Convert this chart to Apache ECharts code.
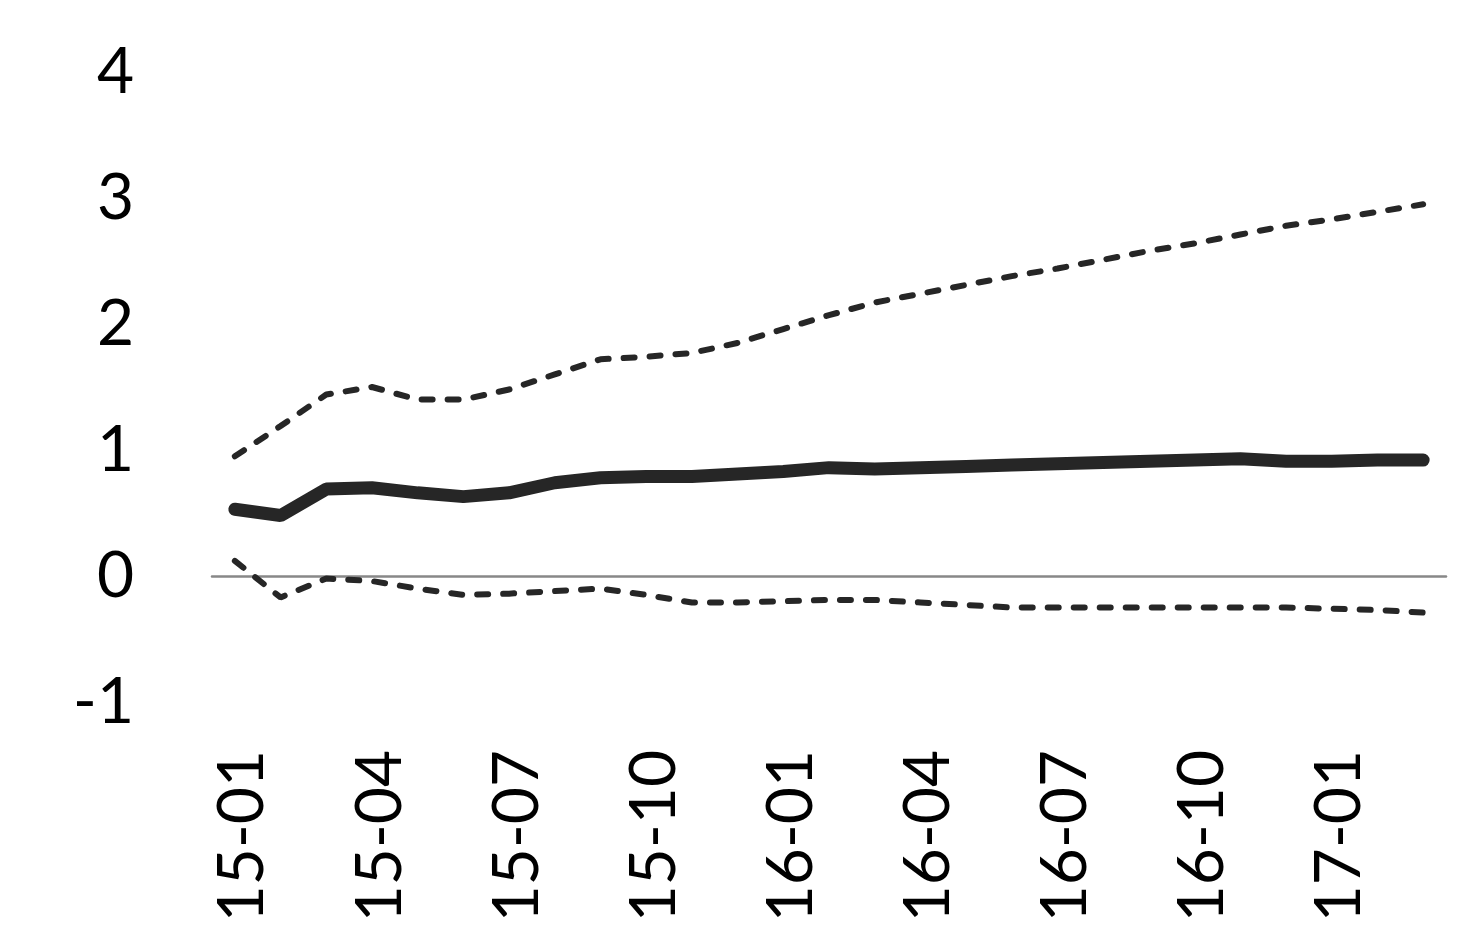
<!DOCTYPE html>
<html>
<head>
<meta charset="utf-8">
<script src="https://cdn.jsdelivr.net/npm/echarts@6/dist/echarts.min.js"></script>
<style>
html, body { margin: 0; padding: 0; background: #fff; }
#chart { width: 1482px; height: 948px; }
</style>
</head>
<body>
<div id="chart"></div>
<script>
// months 15-01 .. 17-03
const months = ['15-01', '15-02', '15-03', '15-04', '15-05', '15-06', '15-07', '15-08', '15-09',
  '15-10', '15-11', '15-12', '16-01', '16-02', '16-03', '16-04', '16-05', '16-06',
  '16-07', '16-08', '16-09', '16-10', '16-11', '16-12', '17-01', '17-02', '17-03']

const central = [0.53, 0.48, 0.69, 0.70, 0.66, 0.63, 0.66, 0.74, 0.78, 0.79, 0.79, 0.81, 0.83, 0.86,
  0.85, 0.86, 0.87, 0.88, 0.89, 0.90, 0.91, 0.92, 0.93, 0.91, 0.91, 0.92, 0.92]

const upper = [0.95, 1.19, 1.44, 1.50, 1.40, 1.40, 1.48, 1.60, 1.72, 1.74, 1.77, 1.85, 1.96, 2.07,
  2.17, 2.24, 2.31, 2.38, 2.44, 2.51, 2.58, 2.64, 2.71, 2.78, 2.83, 2.89, 2.95]

const lower = [0.12, -0.17, -0.02, -0.04, -0.10, -0.15, -0.14, -0.12, -0.10, -0.15, -0.21, -0.21,
  -0.20, -0.19, -0.19, -0.21, -0.23, -0.25, -0.25, -0.25, -0.25, -0.25, -0.25, -0.25, -0.26, -0.27, -0.29]

const yTicks = { min: -1, max: 4, step: 1 }

const chart = echarts.init(document.getElementById('chart'))
const font = 'Lato'

const dashed = {
  color: '#262626',
  width: 6,
  type: [11, 15],
  cap: 'round'
}

chart.setOption({
  animation: false,
  grid: {
    left: 212,
    right: 36,
    top: 72,
    bottom: 246
  },
  xAxis: {
    type: 'category',
    data: months,
    boundaryGap: true,
    axisTick: { show: false },
    axisLine: { onZero: true, lineStyle: { color: '#888', width: 2.5 } },
    axisLabel: {
      interval: 2,
      rotate: 90,
      margin: 48,
      // small line box aligned to top -> labels sit a few px right of the point
      verticalAlign: 'top',
      lineHeight: 16,
      color: '#000',
      fontFamily: font,
      fontSize: 64
    }
  },
  yAxis: {
    type: 'value',
    min: yTicks.min,
    max: yTicks.max,
    interval: yTicks.step,
    splitLine: { show: false },
    axisLine: { show: false },
    axisTick: { show: false },
    axisLabel: {
      margin: 78,
      color: '#000',
      fontFamily: font,
      fontSize: 64
    }
  },
  series: [
    {
      name: 'upper',
      type: 'line',
      data: upper,
      symbol: 'none',
      lineStyle: dashed
    },
    {
      name: 'central',
      type: 'line',
      data: central,
      symbol: 'none',
      lineStyle: { color: '#262626', width: 13, cap: 'round' }
    },
    {
      name: 'lower',
      type: 'line',
      data: lower,
      symbol: 'none',
      lineStyle: dashed
    }
  ]
})
</script>
</body>
</html>
